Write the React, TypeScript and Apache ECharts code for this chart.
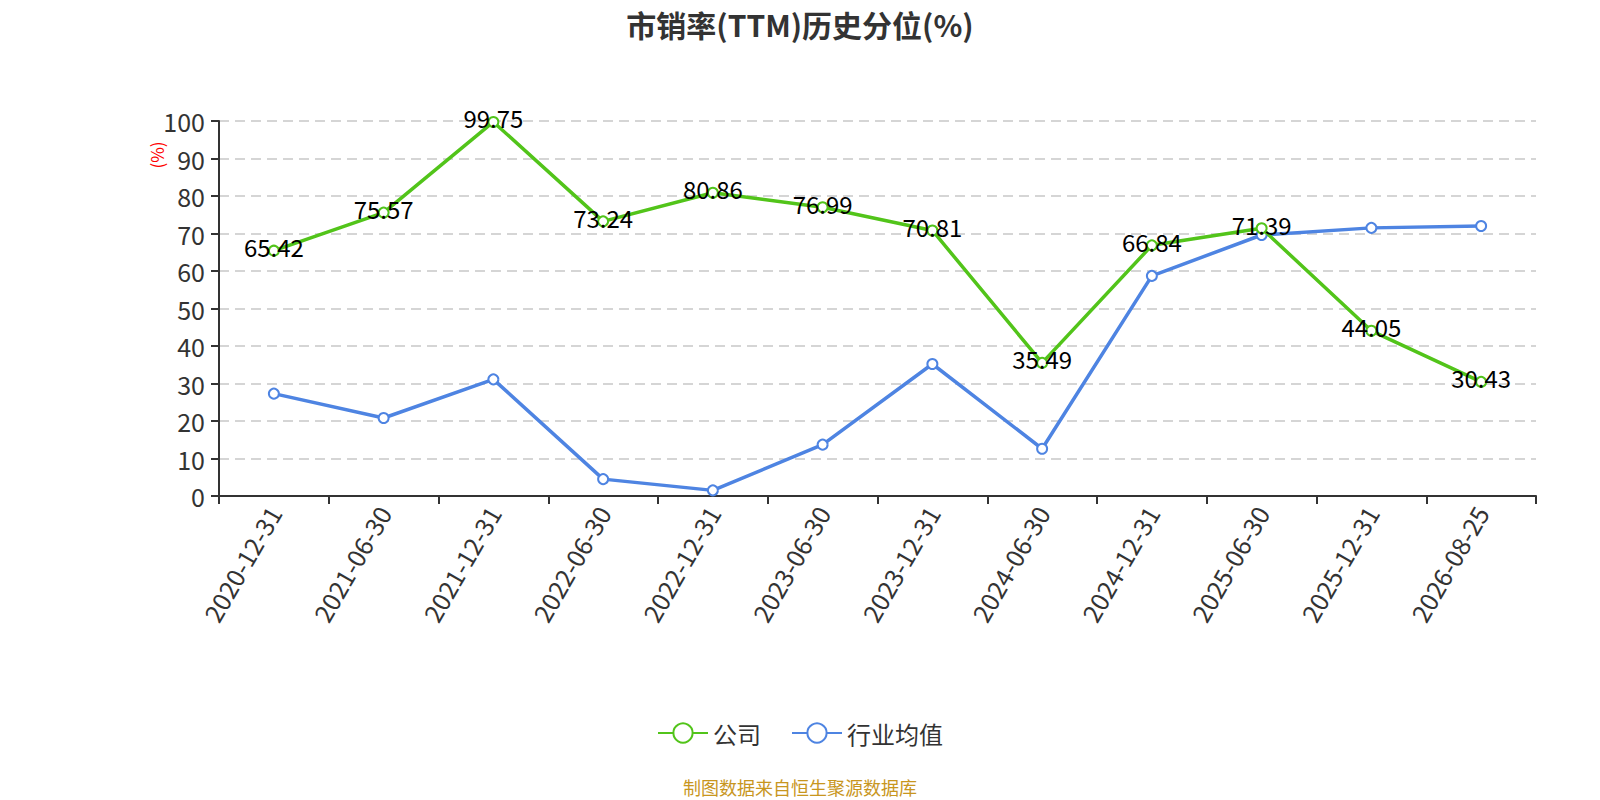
import React, { useEffect, useRef } from "react";
import * as echarts from "echarts";

const categories = [
  "2020-12-31", "2021-06-30", "2021-12-31", "2022-06-30", "2022-12-31", "2023-06-30",
  "2023-12-31", "2024-06-30", "2024-12-31", "2025-06-30", "2025-12-31", "2026-08-25",
];
const companyValues = [65.42, 75.57, 99.75, 73.24, 80.86, 76.99, 70.81, 35.49, 66.84, 71.39, 44.05, 30.43];
const industryValues = [27.3, 20.8, 31.1, 4.5, 1.5, 13.7, 35.2, 12.6, 58.7, 69.6, 71.5, 72.0];
const seriesNames = ["公司", "行业均值"];
const titleText = "市销率(TTM)历史分位(%)";
const footerText = "制图数据来自恒生聚源数据库";
const yAxisName = "(%)";

const FONT = "'Noto Sans CJK SC', 'Noto Sans', sans-serif";

export default function App() {
  const ref = useRef<HTMLDivElement>(null);
  useEffect(() => {
    if (!ref.current) return;
    const chart = echarts.init(ref.current, undefined, { renderer: "svg" });
    chart.setOption({
      animation: false,
      backgroundColor: "#ffffff",
      textStyle: { fontFamily: FONT },
      title: {
        text: titleText,
        left: "center",
        top: 4,
        textStyle: { fontSize: 30, fontWeight: "bold", color: "#333", fontFamily: FONT },
      },
      graphic: [
        {
          type: "text",
          left: "center",
          top: 778,
          style: { text: footerText, fill: "#c8961e", fontSize: 18, fontFamily: FONT },
        },
        {
          type: "text",
          x: 156,
          y: 155,
          rotation: Math.PI / 2,
          style: {
            text: yAxisName,
            fill: "#ff0000",
            fontSize: 17,
            fontFamily: FONT,
            align: "center",
            verticalAlign: "middle",
          },
        },
      ],
      legend: {
        data: seriesNames,
        bottom: 50,
        left: "center",
        itemWidth: 50,
        itemHeight: 24,
        itemGap: 30,
        textStyle: { fontSize: 24, color: "#333", fontFamily: FONT },
      },
      grid: { left: 219, right: 64, top: 121, bottom: 304 },
      xAxis: {
        type: "category",
        data: categories,
        boundaryGap: true,
        axisLine: { lineStyle: { color: "#333", width: 2 } },
        axisTick: { show: true, length: 8, lineStyle: { color: "#333", width: 2 } },
        axisLabel: { rotate: 60, fontSize: 25, color: "#333", margin: 12, fontFamily: FONT, interval: 0 },
      },
      yAxis: {
        type: "value",
        min: 0,
        max: 100,
        interval: 10,
        axisLine: { show: true, lineStyle: { color: "#333", width: 2 } },
        axisTick: { show: true, length: 8, lineStyle: { color: "#333", width: 2 } },
        axisLabel: { fontSize: 25, color: "#333", margin: 14, fontFamily: FONT },
        splitLine: { show: true, lineStyle: { color: "#c8c8c8", type: [10, 6], width: 1.5 } },
      },
      series: [
        {
          name: seriesNames[0],
          type: "line",
          data: companyValues,
          symbol: "emptyCircle",
          symbolSize: 10,
          color: "#52c41a",
          lineStyle: { width: 3.5, color: "#52c41a" },
          itemStyle: { color: "#52c41a", borderWidth: 2 },
          label: { show: true, position: "inside", fontSize: 24, color: "#000", fontFamily: FONT, offset: [0, -4] },
          z: 3,
        },
        {
          name: seriesNames[1],
          type: "line",
          data: industryValues,
          symbol: "emptyCircle",
          symbolSize: 10,
          color: "#4e84e2",
          lineStyle: { width: 3.5, color: "#4e84e2" },
          itemStyle: { color: "#4e84e2", borderWidth: 2 },
          label: { show: false },
          z: 2,
        },
      ],
    });
    return () => chart.dispose();
  }, []);
  return (
    <div
      ref={ref}
      style={{ position: "fixed", left: 0, top: 0, width: 1600, height: 800 }}
    />
  );
}
